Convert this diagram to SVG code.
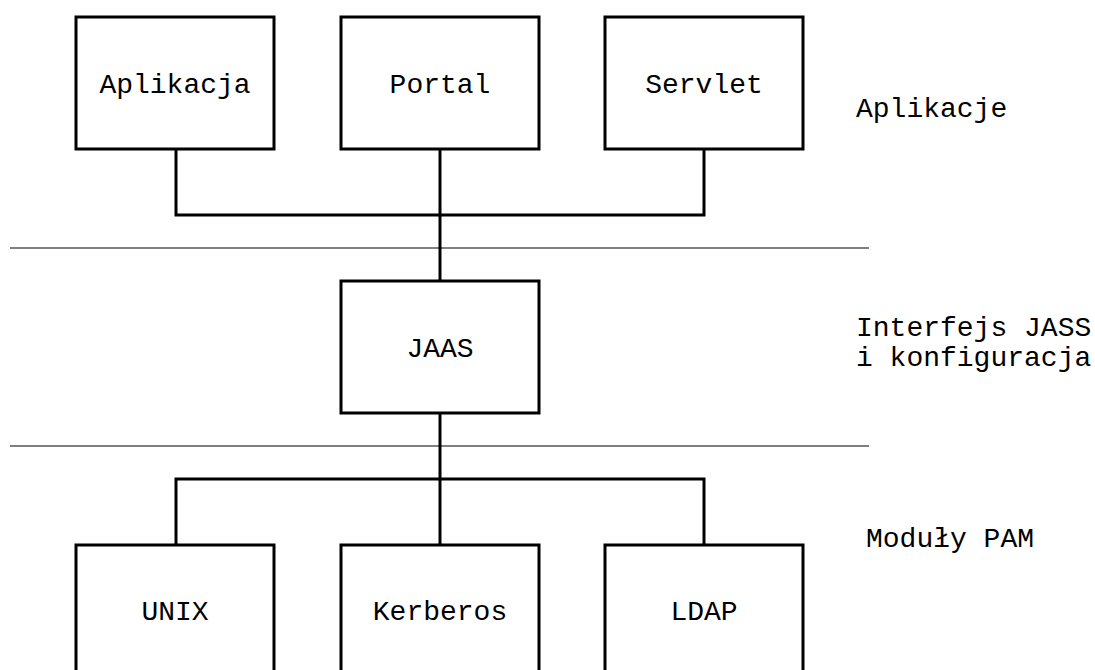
<svg xmlns="http://www.w3.org/2000/svg" width="1095" height="670" viewBox="0 0 1095 670">
  <style>
    .box { fill: #ffffff; stroke: #000000; stroke-width: 3; }
    .wire { fill: none; stroke: #000000; stroke-width: 3; }
    .layer { fill: none; stroke: #000000; stroke-width: 1.2; }
    text { font-family: "Liberation Mono", "DejaVu Sans Mono", monospace; font-size: 28px; fill: #000000; }
    .mid { text-anchor: middle; }
  </style>
  <rect width="1095" height="670" fill="#ffffff"/>

  <!-- layer separators -->
  <g id="separators">
    <line class="layer" x1="10" y1="248" x2="869" y2="248"/>
    <line class="layer" x1="10" y1="446" x2="869" y2="446"/>
  </g>

  <!-- connectors -->
  <g id="connectors">
    <polyline class="wire" points="176,149 176,215 704,215 704,149"/>
    <line class="wire" x1="440" y1="149" x2="440" y2="281"/>
    <line class="wire" x1="440" y1="413" x2="440" y2="479"/>
    <polyline class="wire" points="176,545 176,479 704,479 704,545"/>
    <line class="wire" x1="440" y1="479" x2="440" y2="545"/>
  </g>

  <!-- application layer -->
  <g id="aplikacja">
    <rect class="box" x="76" y="17" width="198" height="132"/>
    <text class="mid" x="175" y="93">Aplikacja</text>
  </g>
  <g id="portal">
    <rect class="box" x="341" y="17" width="198" height="132"/>
    <text class="mid" x="440" y="93">Portal</text>
  </g>
  <g id="servlet">
    <rect class="box" x="605" y="17" width="198" height="132"/>
    <text class="mid" x="704" y="93">Servlet</text>
  </g>

  <!-- JAAS layer -->
  <g id="jaas">
    <rect class="box" x="341" y="281" width="198" height="132"/>
    <text class="mid" x="440" y="357">JAAS</text>
  </g>

  <!-- PAM modules -->
  <g id="unix">
    <rect class="box" x="76" y="545" width="198" height="140"/>
    <text class="mid" x="175" y="620">UNIX</text>
  </g>
  <g id="kerberos">
    <rect class="box" x="341" y="545" width="198" height="140"/>
    <text class="mid" x="440" y="620">Kerberos</text>
  </g>
  <g id="ldap">
    <rect class="box" x="605" y="545" width="198" height="140"/>
    <text class="mid" x="704" y="620">LDAP</text>
  </g>

  <!-- layer captions -->
  <g id="captions">
    <text x="856" y="117">Aplikacje</text>
    <text x="856" y="336">Interfejs JASS</text>
    <text x="856" y="366">i konfiguracja</text>
    <text x="866" y="547">Moduły PAM</text>
  </g>
</svg>
